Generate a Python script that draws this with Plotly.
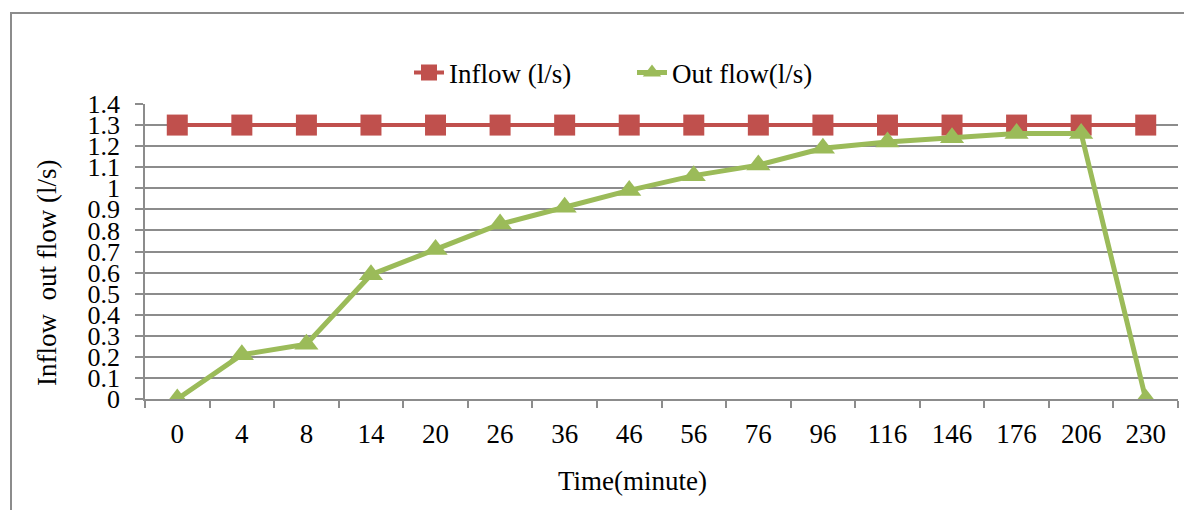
import plotly.graph_objects as go

time_labels = ["0", "4", "8", "14", "20", "26", "36", "46", "56", "76", "96", "116", "146", "176", "206", "230"]
inflow = [1.3] * 16
outflow = [0, 0.21, 0.26, 0.59, 0.71, 0.83, 0.91, 0.99, 1.06, 1.11, 1.19, 1.22, 1.24, 1.26, 1.26, 0]
y_ticks = [0, 0.1, 0.2, 0.3, 0.4, 0.5, 0.6, 0.7, 0.8, 0.9, 1, 1.1, 1.2, 1.3, 1.4]
y_tick_text = ["0", "0.1", "0.2", "0.3", "0.4", "0.5", "0.6", "0.7", "0.8", "0.9", "1", "1.1", "1.2", "1.3", "1.4"]

FONT = "Liberation Serif, Times New Roman, serif"
FS = 27
GRID = "#8c8c8c"

# page body has an 8px margin; figure coords = page coords - 8
W, H = 1184, 502
L, T = 137, 96
PW, PH = 1033, 295
R = W - L - PW
B = H - T - PH

def px(xpage):
    return (xpage - 8 - L) / PW

def py(ypage):
    return (T + PH - (ypage - 8)) / PH

fig = go.Figure()
fig.add_trace(go.Scatter(
    x=time_labels, y=inflow, name="Inflow (l/s)", mode="lines+markers",
    line=dict(color="#c0504d", width=4),
    marker=dict(symbol="square", size=21, color="#c0504d"),
))
fig.add_trace(go.Scatter(
    x=time_labels, y=outflow, name="Out flow(l/s)", mode="lines+markers",
    line=dict(color="#9bbb59", width=5),
    marker=dict(symbol="triangle-up", size=21, color="#9bbb59"),
))

fig.update_layout(
    width=W, height=H,
    margin=dict(l=L, r=R, t=T, b=B),
    paper_bgcolor="white", plot_bgcolor="white",
    font=dict(family=FONT, size=FS, color="black"),
    showlegend=True,
    legend=dict(orientation="h", x=px(632), y=py(73), xanchor="center", yanchor="middle",
                font=dict(family=FONT, size=FS), tracegroupgap=0, entrywidth=178),
    xaxis=dict(
        type="category", range=[-0.5, 15.5],
        showgrid=False, showline=True, linecolor=GRID, linewidth=1.5,
        ticks="outside", tickson="boundaries", ticklen=7, tickcolor=GRID, tickwidth=1.5,
        tickfont=dict(family=FONT, size=FS), ticklabelstandoff=10,
    ),
    yaxis=dict(
        range=[0, 1.4], tickvals=y_ticks, ticktext=y_tick_text,
        showgrid=True, gridcolor=GRID, gridwidth=1.5,
        showline=True, linecolor=GRID, linewidth=1.5,
        ticks="outside", ticklen=8, tickcolor=GRID, tickwidth=1.5,
        tickfont=dict(family=FONT, size=26), ticklabelstandoff=10,
        zeroline=False,
    ),
    annotations=[
        dict(text="Time(minute)", xref="paper", yref="paper", x=px(632), y=py(481),
             xanchor="center", yanchor="middle", showarrow=False,
             font=dict(family=FONT, size=FS)),
        dict(text="Inflow  out flow (l/s)", xref="paper", yref="paper", x=px(47), y=py(273),
             xanchor="center", yanchor="middle", showarrow=False, textangle=-90,
             font=dict(family=FONT, size=FS)),
    ],
    shapes=[dict(type="rect", xref="paper", yref="paper",
                 x0=px(11), x1=px(1205),
                 y0=py(530), y1=py(13),
                 line=dict(color="#8c8c8c", width=2), fillcolor="rgba(0,0,0,0)", layer="below")],
)

fig.write_html("out.html")
